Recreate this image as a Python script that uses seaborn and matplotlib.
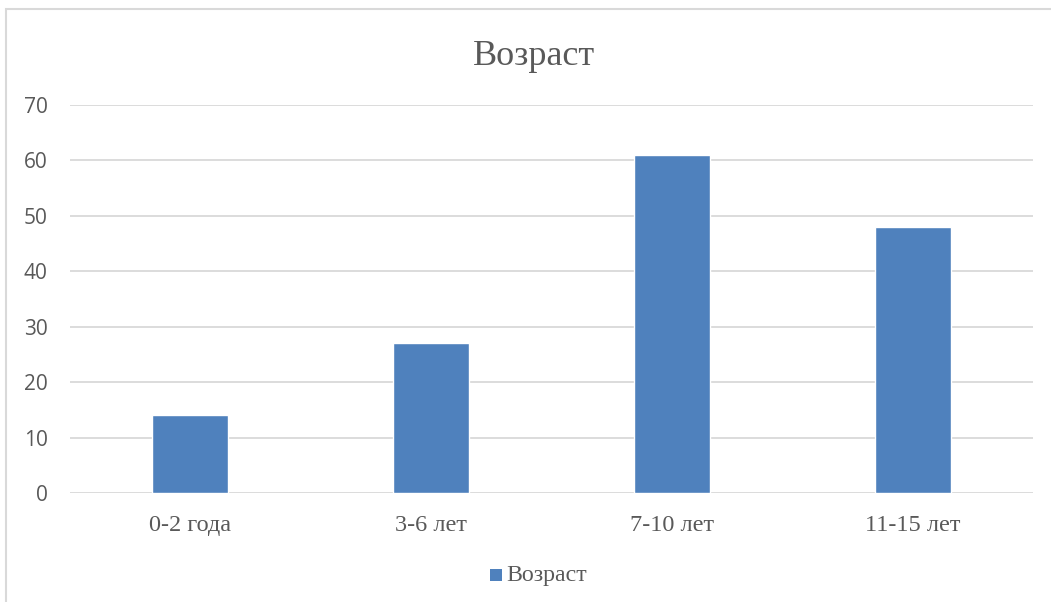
import matplotlib
matplotlib.use("Agg")
import pandas as pd
import seaborn as sns
from matplotlib import pyplot as plt
from matplotlib.patches import Rectangle

# Data
categories = ["0-2 года", "3-6 лет", "7-10 лет", "11-15 лет"]
values = [14, 27, 61, 48]
series_name = "Возраст"
y_ticks = [0, 10, 20, 30, 40, 50, 60, 70]

data = pd.DataFrame({"group": categories, "value": values, "series": series_name})

sns.set_theme(style="white")
plt.rcParams["font.family"] = ["Liberation Serif", "DejaVu Serif"]

text_color = "#595959"
grid_color = "#D9D9D9"
bar_color = "#4F81BD"

fig = plt.figure(figsize=(10.51, 6.02), dpi=100)
ax = fig.add_axes([70 / 1051, (602 - 493) / 602, (1033 - 70) / 1051, (493 - 105) / 602])

sns.barplot(data=data, x="group", y="value", hue="series", palette=[bar_color],
            width=0.316, ax=ax, legend=False, saturation=1)

ax.set_ylim(0, 70)
ax.set_yticks(y_ticks)
ax.set_xlim(-0.5, len(categories) - 0.5)
ax.yaxis.grid(True, color=grid_color, linewidth=1.3)
ax.set_axisbelow(True)
for s in ax.spines.values():
    s.set_visible(False)
ax.set_xlabel("")
ax.set_ylabel("")
ax.tick_params(axis="both", length=0)
ax.tick_params(axis="x", pad=16)
ax.tick_params(axis="y", pad=16)
for lbl in ax.get_yticklabels():
    lbl.set_fontfamily("Open Sans")
    lbl.set_fontsize(15)
    lbl.set_color(text_color)
for lbl in ax.get_xticklabels():
    lbl.set_fontsize(17.5)
    lbl.set_color(text_color)

# Title
fig.text((472 + 597) / 2 / 1051, 1 - 65 / 602, series_name, ha="center", va="baseline",
         fontsize=26, color=text_color)

# Legend
fig.patches.append(Rectangle((490 / 1051, 1 - 581 / 602), 12 / 1051, 12 / 602,
                             transform=fig.transFigure, facecolor=bar_color,
                             edgecolor="none"))
fig.text(506 / 1051, 1 - 576 / 602, series_name, ha="left", va="center",
         fontsize=17.2, color=text_color)

# Chart frame
fig.patches.append(Rectangle((5.5 / 1051, -0.1), 1.2, 1 - 9 / 602 + 0.1,
                             transform=fig.transFigure, facecolor="none",
                             edgecolor=grid_color, linewidth=1.5))

fig.savefig("out.png", dpi=100)
